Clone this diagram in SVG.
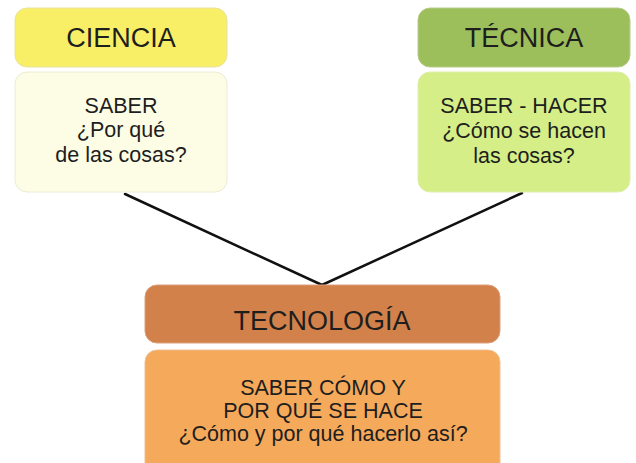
<svg xmlns="http://www.w3.org/2000/svg" width="636" height="463" viewBox="0 0 636 463">
<style>
text{font-family:"Liberation Sans",Arial,sans-serif;fill:#1e1e1e;text-anchor:middle}
.t{font-size:27px}
.b{font-size:21.5px}
.box{stroke:#e8e8d8;stroke-width:1}
.conn{stroke:#111;stroke-width:2.5;fill:none;stroke-linecap:round}
</style>
<rect width="636" height="463" fill="#ffffff"/>
<g id="connectors">
<line class="conn" x1="125" y1="194" x2="322" y2="285"/>
<line class="conn" x1="522" y1="193" x2="322" y2="285"/>
</g>
<g id="ciencia">
<rect x="15" y="8" width="212" height="59" rx="12" fill="#f8ef66" stroke="#e9e2a0"/>
<text class="t" x="121" y="47">CIENCIA</text>
</g>
<g id="ciencia-body">
<rect x="15" y="72" width="212" height="120" rx="12" fill="#fdfde6" stroke="#ececd6"/>
<text class="b" x="121" y="113">SABER</text>
<text class="b" x="121" y="137">¿Por qué</text>
<text class="b" x="121" y="162">de las cosas?</text>
</g>
<g id="tecnica">
<rect x="418" y="8" width="212" height="59" rx="12" fill="#9dbf5b" stroke="#b5cc8a"/>
<text class="t" x="524" y="47">TÉCNICA</text>
</g>
<g id="tecnica-body">
<rect x="418" y="72" width="212" height="120" rx="12" fill="#d5ee87" stroke="#dfeeb0"/>
<text class="b" x="524" y="113">SABER - HACER</text>
<text class="b" x="524" y="138">¿Cómo se hacen</text>
<text class="b" x="524" y="163">las cosas?</text>
</g>
<g id="tecnologia">
<rect x="145" y="285" width="355" height="58" rx="12" fill="#d2814a" stroke="#dca07a"/>
<text class="t" x="322" y="330">TECNOLOGÍA</text>
</g>
<g id="tecnologia-body">
<rect x="145" y="350" width="355" height="125" rx="12" fill="#f5a95b" stroke="#f0c090"/>
<text class="b" x="323" y="395">SABER CÓMO Y</text>
<text class="b" x="323" y="418">POR QUÉ SE HACE</text>
<text class="b" x="323" y="441">¿Cómo y por qué hacerlo así?</text>
</g>
</svg>
